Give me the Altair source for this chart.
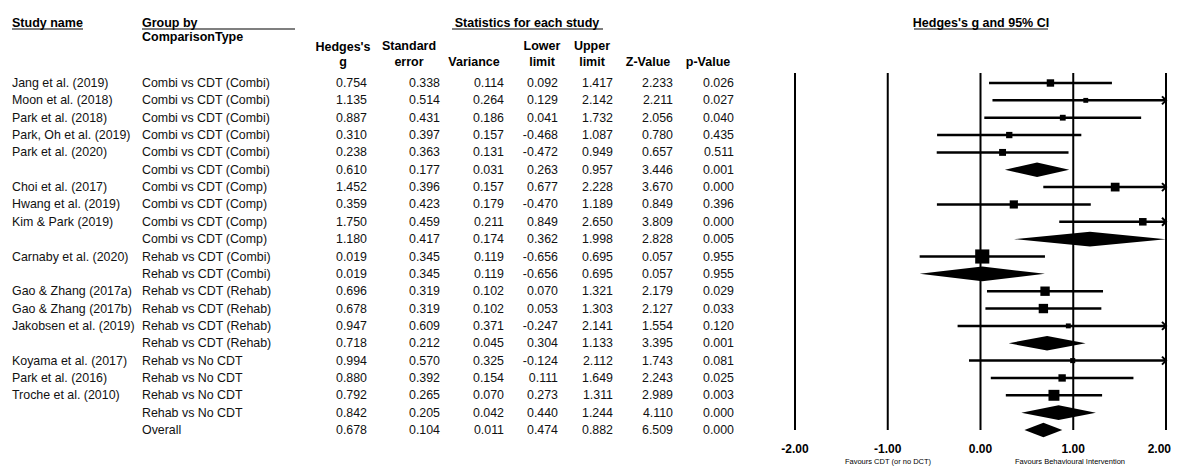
import altair as alt
import pandas as pd

# ---------------- data ----------------
study = ["Jang et al. (2019)", "Moon et al. (2018)", "Park et al. (2018)", "Park, Oh et al. (2019)",
         "Park et al. (2020)", "",
         "Choi et al. (2017)", "Hwang et al. (2019)", "Kim & Park (2019)", "",
         "Carnaby et al. (2020)", "",
         "Gao & Zhang (2017a)", "Gao & Zhang (2017b)", "Jakobsen et al. (2019)", "",
         "Koyama et al. (2017)", "Park et al. (2016)", "Troche et al. (2010)", "",
         ""]
group = ["Combi vs CDT (Combi)"] * 6 + ["Combi vs CDT (Comp)"] * 4 + ["Rehab vs CDT (Combi)"] * 2 \
    + ["Rehab vs CDT (Rehab)"] * 4 + ["Rehab vs No CDT"] * 4 + ["Overall"]
summary = [0, 0, 0, 0, 0, 1, 0, 0, 0, 1, 0, 1, 0, 0, 0, 1, 0, 0, 0, 1, 1]
hedges_g = [0.754, 1.135, 0.887, 0.310, 0.238, 0.610, 1.452, 0.359, 1.750, 1.180, 0.019, 0.019,
            0.696, 0.678, 0.947, 0.718, 0.994, 0.880, 0.792, 0.842, 0.678]
std_err = [0.338, 0.514, 0.431, 0.397, 0.363, 0.177, 0.396, 0.423, 0.459, 0.417, 0.345, 0.345,
           0.319, 0.319, 0.609, 0.212, 0.570, 0.392, 0.265, 0.205, 0.104]
variance = [0.114, 0.264, 0.186, 0.157, 0.131, 0.031, 0.157, 0.179, 0.211, 0.174, 0.119, 0.119,
            0.102, 0.102, 0.371, 0.045, 0.325, 0.154, 0.070, 0.042, 0.011]
lower = [0.092, 0.129, 0.041, -0.468, -0.472, 0.263, 0.677, -0.470, 0.849, 0.362, -0.656, -0.656,
         0.070, 0.053, -0.247, 0.304, -0.124, 0.111, 0.273, 0.440, 0.474]
upper = [1.417, 2.142, 1.732, 1.087, 0.949, 0.957, 2.228, 1.189, 2.650, 1.998, 0.695, 0.695,
         1.321, 1.303, 2.141, 1.133, 2.112, 1.649, 1.311, 1.244, 0.882]
z_value = [2.233, 2.211, 2.056, 0.780, 0.657, 3.446, 3.670, 0.849, 3.809, 2.828, 0.057, 0.057,
           2.179, 2.127, 1.554, 3.395, 1.743, 2.243, 2.989, 4.110, 6.509]
p_value = [0.026, 0.027, 0.040, 0.435, 0.511, 0.001, 0.000, 0.396, 0.000, 0.005, 0.955, 0.955,
           0.029, 0.033, 0.120, 0.001, 0.081, 0.025, 0.003, 0.000, 0.000]
ticks = [-2, -1, 0, 1, 2]

# ---------------- tables ----------------
df = pd.DataFrame({"study": study, "group": group, "summary": summary, "g": hedges_g, "se": std_err,
                   "var": variance, "lower": lower, "upper": upper, "z": z_value, "p": p_value})
df["row"] = list(range(len(df)))
for c in ["g", "se", "var", "lower", "upper", "z", "p"]:
    df[c + "_s"] = [f"{v:.3f}" for v in df[c]]

XMAX = 2.0
stud = df[df.summary == 0].copy()
stud["w"] = 1.0 / stud["var"]
stud["rel"] = stud["w"] / stud.groupby("group")["w"].transform("sum")
stud["x2"] = stud["upper"].clip(upper=XMAX)
arr = stud[stud.upper > XMAX]

HALF = 0.42
summ = df[df.summary == 1]
dia_rows = []
for rw, lo, gg, up in zip(summ["row"].tolist(), summ["lower"].tolist(), summ["g"].tolist(),
                          summ["upper"].tolist()):
    dia_rows.append({"sid": int(rw), "dx": float(lo), "dy": float(rw), "dy2": float(rw)})
    dia_rows.append({"sid": int(rw), "dx": float(gg), "dy": rw - HALF, "dy2": rw + HALF})
    dia_rows.append({"sid": int(rw), "dx": float(up), "dy": float(rw), "dy2": float(rw)})
dia = pd.DataFrame(dia_rows)
tick_df = pd.DataFrame({"v": ticks, "lab": [f"{v:.2f}" for v in ticks]})

FONT = "Liberation Sans"
xs = alt.Scale(domain=[-2, 2], range=[787, 1158], nice=False, zero=False)
ys = alt.Scale(domain=[0, 20], range=[75, 422], nice=False, zero=False)
one = alt.Data(values=[{"a": 0}])

layers = []

# forest plot
layers.append(alt.Chart(tick_df).mark_rule(color="black", strokeWidth=2).encode(
    x=alt.X("v:Q", scale=xs, axis=None), y=alt.value(65), y2=alt.value(422)))
layers.append(alt.Chart(stud).mark_rule(color="black", strokeWidth=2.5).encode(
    x=alt.X("lower:Q", scale=xs, axis=None), x2="x2:Q", y=alt.Y("row:Q", scale=ys, axis=None)))
layers.append(alt.Chart(arr).mark_point(shape="M-1,-1L0,0L-1,1", filled=False, color="black",
                                        strokeWidth=2, size=64, opacity=1).encode(
    x=alt.X("x2:Q", scale=xs, axis=None), y=alt.Y("row:Q", scale=ys, axis=None)))
layers.append(alt.Chart(stud).mark_square(color="black", filled=True, opacity=1).encode(
    x=alt.X("g:Q", scale=xs, axis=None), y=alt.Y("row:Q", scale=ys, axis=None),
    size=alt.Size("rel:Q", scale=alt.Scale(domain=[0, 1], range=[0, 200]), legend=None)))
for sid in sorted(set(dia["sid"])):
    layers.append(alt.Chart(dia[dia.sid == sid]).mark_area(
        color="black", fill="black", opacity=1, interpolate="linear", orient="vertical").encode(
        x=alt.X("dx:Q", scale=xs, axis=None),
        y=alt.Y("dy:Q", scale=ys, axis=None),
        y2=alt.Y2("dy2:Q")))

# tick labels (last one kept inside the page edge)
layers.append(alt.Chart(tick_df[tick_df.v < 2]).mark_text(
    font=FONT, fontSize=12, fontWeight="bold", color="black", baseline="middle").encode(
    x=alt.X("v:Q", scale=xs, axis=None), y=alt.value(441), text="lab:N"))
layers.append(alt.Chart(tick_df[tick_df.v == 2]).mark_text(
    font=FONT, fontSize=12, fontWeight="bold", color="black", baseline="middle", align="right",
    dx=5).encode(
    x=alt.X("v:Q", scale=xs, axis=None), y=alt.value(441), text="lab:N"))


def label(txt, x, y, align="left", size=12.5, weight="bold", baseline="middle"):
    return alt.Chart(one).mark_text(text=txt, font=FONT, fontSize=size, fontWeight=weight,
                                    align=align, baseline=baseline, color="black").encode(
        x=alt.value(x), y=alt.value(y))


def uline(x1, x2, y):
    return alt.Chart(one).mark_rule(color="black", strokeWidth=1.2).encode(
        x=alt.value(x1), x2=alt.value(x2), y=alt.value(y))


layers.append(label("Favours CDT (or no DCT)", 880, 456, "center", 7.5, "normal", "alphabetic"))
layers.append(label("Favours Behavioural Intervention", 1062, 456, "center", 7.5, "normal",
                    "alphabetic"))

# headers
layers += [
    label("Study name", 4, 15), uline(4, 75, 21),
    label("Group by", 134, 15), uline(134, 287, 21),
    label("ComparisonType", 134, 29),
    label("Statistics for each study", 519, 15, "center"), uline(444, 595, 21),
    label("Hedges's g and 95% CI", 973, 15, "center"), uline(906, 1040, 21),
    label("Hedges's", 335, 39, "center"), label("g", 335, 54, "center"),
    label("Standard", 401, 38, "center"), label("error", 401, 54, "center"),
    label("Variance", 466, 54, "center"),
    label("Lower", 534, 38, "center"), label("limit", 534, 54, "center"),
    label("Upper", 584, 38, "center"), label("limit", 584, 54, "center"),
    label("Z-Value", 640, 54, "center"),
    label("p-Value", 700, 54, "center"),
]


def col(field, x, align):
    return alt.Chart(df).mark_text(font=FONT, fontSize=12.4, align=align, baseline="middle",
                                   color="#111111").encode(
        x=alt.value(x), y=alt.Y("row:Q", scale=ys, axis=None), text=field)


layers += [
    col("study:N", 4, "left"),
    col("group:N", 134, "left"),
    col("g_s:N", 359, "right"),
    col("se_s:N", 432, "right"),
    col("var_s:N", 496, "right"),
    col("lower_s:N", 550, "right"),
    col("upper_s:N", 605, "right"),
    col("z_s:N", 665, "right"),
    col("p_s:N", 726, "right"),
]

chart = alt.layer(*layers).properties(
    width=1163, height=458, padding=0, autosize="none", background="white"
).configure_view(stroke=None)

chart.save("out.html", embed_options={"renderer": "svg", "actions": False})
